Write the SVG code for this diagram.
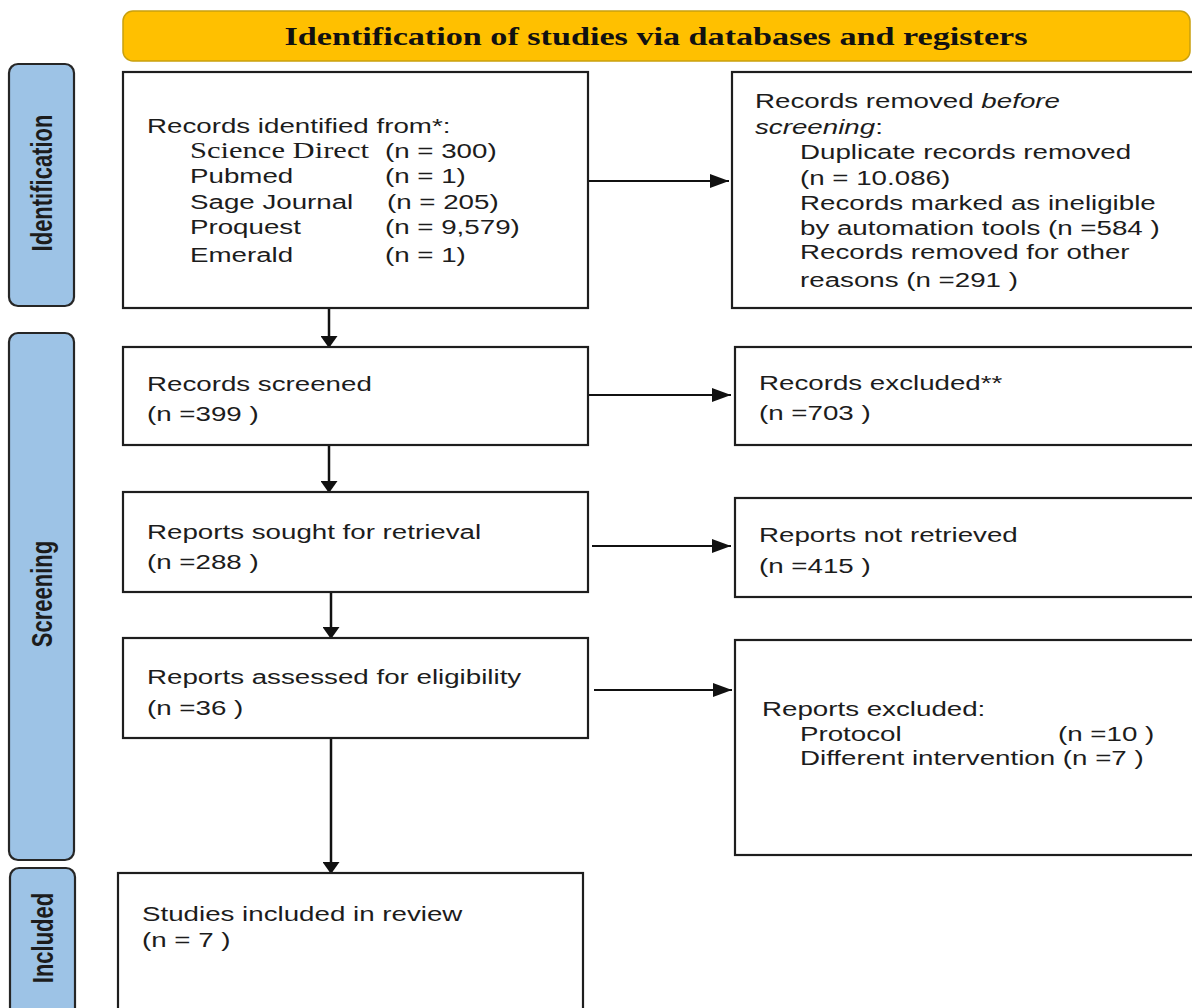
<svg xmlns="http://www.w3.org/2000/svg" width="1192" height="1008" viewBox="0 0 1192 1008">
<style>
.bg{fill:#ffffff}
.box{fill:#ffffff;stroke:#1e1e1e;stroke-width:2.2}
.lab{fill:#9dc3e6;stroke:#262626;stroke-width:2.2}
.hdr{fill:#ffc000;stroke:#c9a00e;stroke-width:1.5}
.t{font-family:"Liberation Sans",Arial,sans-serif;font-size:21px;fill:#1c1c1c}
.s{font-family:"Liberation Serif","Times New Roman",serif;font-size:23.5px;fill:#1c1c1c}
.h{font-family:"Liberation Serif","Times New Roman",serif;font-size:25.5px;font-weight:bold;fill:#111111}
.v{font-family:"Liberation Sans",Arial,sans-serif;font-size:22px;font-weight:bold;fill:#1c1c1c}
.c{stroke:#111111;fill:none}
.cv{stroke-width:2.5}
.ch{stroke-width:2}
</style>
<defs>
<marker id="ah" viewBox="0 0 19 14" markerWidth="19" markerHeight="14" refX="19" refY="7" orient="auto" markerUnits="userSpaceOnUse"><path d="M0,0 L19,7 L0,14 z" fill="#111111"/></marker>
<marker id="av" viewBox="0 0 12 17" markerWidth="12" markerHeight="17" refX="12" refY="8.5" orient="auto" markerUnits="userSpaceOnUse"><path d="M0,0 L12,8.5 L0,17 z" fill="#111111"/></marker>
</defs>
<rect class="bg" x="0" y="0" width="1192" height="1008"/>

<g id="header">
<rect class="hdr" x="123" y="11" width="1067" height="50" rx="10"/>
<text class="h" text-anchor="middle" transform="translate(656 45) scale(1.34 1)">Identification of studies via databases and registers</text>
</g>

<g id="label-identification">
<rect class="lab" x="9" y="64" width="65" height="242" rx="9"/>
<text class="v" text-anchor="middle" transform="translate(52 183) scale(1.32 1) rotate(-90)">Identification</text>
</g>
<g id="label-screening">
<rect class="lab" x="9" y="333" width="65" height="527" rx="9"/>
<text class="v" text-anchor="middle" transform="translate(52 594) scale(1.32 1) rotate(-90)">Screening</text>
</g>
<g id="label-included">
<rect class="lab" x="10" y="868" width="65" height="160" rx="9"/>
<text class="v" text-anchor="middle" transform="translate(53 938) scale(1.32 1) rotate(-90)">Included</text>
</g>

<g id="connectors">
<line class="c cv" x1="329" y1="295" x2="329" y2="348" marker-end="url(#av)"/>
<line class="c cv" x1="329" y1="445" x2="329" y2="493" marker-end="url(#av)"/>
<line class="c cv" x1="331" y1="588" x2="331" y2="639" marker-end="url(#av)"/>
<line class="c cv" x1="331" y1="738" x2="331" y2="874" marker-end="url(#av)"/>
<line class="c ch" x1="588" y1="181" x2="729" y2="181" marker-end="url(#ah)"/>
<line class="c ch" x1="588" y1="395" x2="731" y2="395" marker-end="url(#ah)"/>
<line class="c ch" x1="592" y1="546" x2="731" y2="546" marker-end="url(#ah)"/>
<line class="c ch" x1="594" y1="690" x2="732" y2="690" marker-end="url(#ah)"/>
</g>

<g id="records-identified">
<rect class="box" x="123" y="72" width="465" height="236"/>
<text class="t" transform="translate(147 133) scale(1.32 1)">Records identified from*:</text>
<text class="s" transform="translate(190 158) scale(1.3 1)">Science Direct</text>
<text class="t" transform="translate(385 158) scale(1.32 1)">(n = 300)</text>
<text class="t" transform="translate(190 183) scale(1.32 1)">Pubmed</text>
<text class="t" transform="translate(385 183) scale(1.32 1)">(n = 1)</text>
<text class="t" transform="translate(190 209) scale(1.32 1)">Sage Journal</text>
<text class="t" transform="translate(387 209) scale(1.32 1)">(n = 205)</text>
<text class="t" transform="translate(190 234) scale(1.32 1)">Proquest</text>
<text class="t" transform="translate(385 234) scale(1.32 1)">(n = 9,579)</text>
<text class="t" transform="translate(190 262) scale(1.32 1)">Emerald</text>
<text class="t" transform="translate(385 262) scale(1.32 1)">(n = 1)</text>
</g>

<g id="records-removed">
<rect class="box" x="732" y="72" width="480" height="236"/>
<text class="t" transform="translate(755 108) scale(1.32 1)">Records removed <tspan font-style="italic">before</tspan></text>
<text class="t" transform="translate(755 134) scale(1.32 1)"><tspan font-style="italic">screening</tspan>:</text>
<text class="t" transform="translate(800 159) scale(1.32 1)">Duplicate records removed</text>
<text class="t" transform="translate(800 185) scale(1.32 1)">(n = 10.086)</text>
<text class="t" transform="translate(800 210) scale(1.32 1)">Records marked as ineligible</text>
<text class="t" transform="translate(800 235) scale(1.32 1)">by automation tools (n =584 )</text>
<text class="t" transform="translate(800 259) scale(1.32 1)">Records removed for other</text>
<text class="t" transform="translate(800 287) scale(1.32 1)">reasons (n =291 )</text>
</g>

<g id="records-screened">
<rect class="box" x="123" y="347" width="465" height="98"/>
<text class="t" transform="translate(147 391) scale(1.32 1)">Records screened</text>
<text class="t" transform="translate(147 421) scale(1.32 1)">(n =399 )</text>
</g>

<g id="records-excluded">
<rect class="box" x="735" y="347" width="480" height="98"/>
<text class="t" transform="translate(759 390) scale(1.32 1)">Records excluded**</text>
<text class="t" transform="translate(759 420) scale(1.32 1)">(n =703 )</text>
</g>

<g id="reports-sought">
<rect class="box" x="123" y="492" width="465" height="100"/>
<text class="t" transform="translate(147 539) scale(1.32 1)">Reports sought for retrieval</text>
<text class="t" transform="translate(147 569) scale(1.32 1)">(n =288 )</text>
</g>

<g id="reports-not-retrieved">
<rect class="box" x="735" y="498" width="480" height="99"/>
<text class="t" transform="translate(759 542) scale(1.32 1)">Reports not retrieved</text>
<text class="t" transform="translate(759 573) scale(1.32 1)">(n =415 )</text>
</g>

<g id="reports-assessed">
<rect class="box" x="123" y="638" width="465" height="100"/>
<text class="t" transform="translate(147 684) scale(1.32 1)">Reports assessed for eligibility</text>
<text class="t" transform="translate(147 715) scale(1.32 1)">(n =36 )</text>
</g>

<g id="reports-excluded">
<rect class="box" x="735" y="640" width="480" height="215"/>
<text class="t" transform="translate(762 716) scale(1.32 1)">Reports excluded:</text>
<text class="t" transform="translate(800 741) scale(1.32 1)">Protocol</text>
<text class="t" transform="translate(1058 741) scale(1.32 1)">(n =10 )</text>
<text class="t" transform="translate(800 765) scale(1.32 1)">Different intervention (n =7 )</text>
</g>

<g id="studies-included">
<rect class="box" x="118" y="873" width="465" height="160"/>
<text class="t" transform="translate(142 921) scale(1.32 1)">Studies included in review</text>
<text class="t" transform="translate(142 947) scale(1.32 1)">(n = 7 )</text>
</g>
</svg>
